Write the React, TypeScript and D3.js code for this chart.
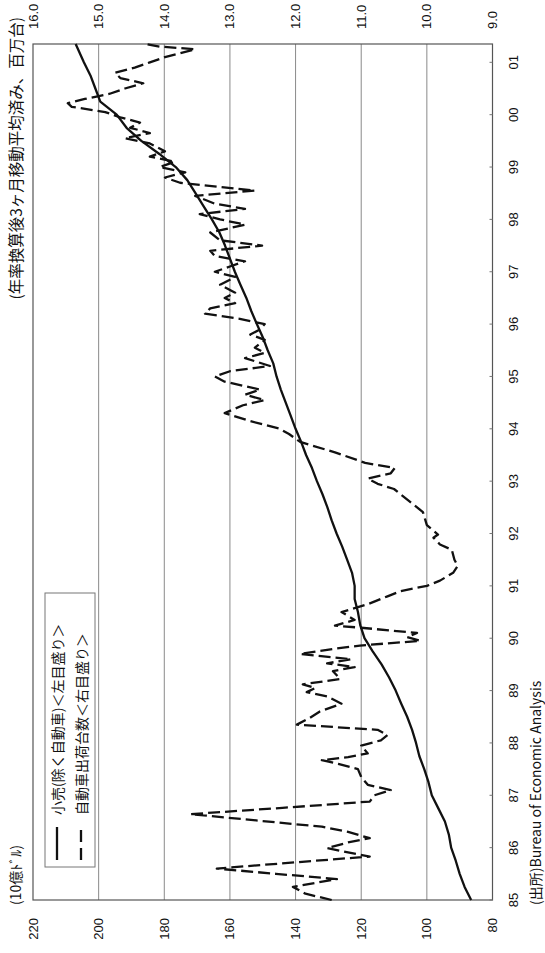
import React from 'react';
import * as d3 from 'd3';

const yearLabels = ['85', '86', '87', '88', '89', '90', '91', '92', '93', '94', '95', '96', '97', '98', '99', '00', '01'];
const yearValues = [1985, 1986, 1987, 1988, 1989, 1990, 1991, 1992, 1993, 1994, 1995, 1996, 1997, 1998, 1999, 2000, 2001];
const leftTicks = [80, 100, 120, 140, 160, 180, 200, 220];
const rightTicks = [9, 10, 11, 12, 13, 14, 15, 16];

// 小売(除く自動車) — left axis, 10億ドル
const retailT = [
  1985.0, 1985.25, 1985.5, 1985.75, 1986.0, 1986.25, 1986.5, 1986.75, 1987.0, 1987.25, 1987.5, 1987.75,
  1988.0, 1988.25, 1988.5, 1988.75, 1989.0, 1989.25, 1989.5, 1989.75, 1990.0, 1990.25, 1990.5, 1990.75,
  1991.0, 1991.25, 1991.5, 1991.75, 1992.0, 1992.25, 1992.5, 1992.75, 1993.0, 1993.25, 1993.5, 1993.75,
  1994.0, 1994.25, 1994.5, 1994.75, 1995.0, 1995.25, 1995.5, 1995.75, 1996.0, 1996.25, 1996.5, 1996.75,
  1997.0, 1997.25, 1997.5, 1997.75, 1998.0, 1998.25, 1998.5, 1998.75, 1999.0, 1999.25, 1999.5, 1999.75,
  2000.0, 2000.25, 2000.5, 2000.75, 2001.0, 2001.35,
];
const retailV = [
  86.5, 88.5, 90.0, 91.2, 92.6, 93.3, 94.5, 96.5, 98.5, 99.5, 100.8, 102.3,
  103.3, 104.5, 106.0, 107.8, 109.5, 111.5, 113.8, 116.5, 119.0, 120.3, 121.0, 122.0,
  122.0, 122.8, 124.3, 125.8, 127.5, 129.0, 130.3, 131.8, 133.5, 135.0, 136.8, 138.3,
  140.0, 141.5, 143.0, 144.5, 145.8, 146.8, 148.5, 150.0, 151.8, 153.5, 155.0, 156.8,
  158.5, 160.0, 161.5, 163.2, 165.5, 168.0, 170.5, 173.0, 176.5, 181.5, 187.0, 191.5,
  194.5, 199.5, 201.0, 202.5, 204.5, 207.0,
];

// 自動車出荷台数 — right axis, 百万台
const autoT = [
  1985.0, 1985.12, 1985.25, 1985.4, 1985.5, 1985.6, 1985.72, 1985.83, 1985.99, 1986.1, 1986.18, 1986.3,
  1986.4, 1986.52, 1986.64, 1986.76, 1986.88, 1987.0, 1987.1, 1987.2, 1987.35, 1987.5, 1987.6, 1987.67,
  1987.73, 1987.8, 1987.95, 1988.05, 1988.15, 1988.25, 1988.35, 1988.48, 1988.6, 1988.75, 1988.89, 1988.97,
  1989.05, 1989.12, 1989.22, 1989.37, 1989.45, 1989.52, 1989.6, 1989.7, 1989.8, 1989.86, 1989.95, 1990.02,
  1990.1, 1990.2, 1990.24, 1990.35, 1990.5, 1990.65, 1990.8, 1990.9, 1991.0, 1991.1, 1991.25, 1991.38,
  1991.5, 1991.69, 1991.79, 1991.92, 1991.98, 1992.16, 1992.41, 1992.6, 1992.85, 1992.95, 1993.05, 1993.15,
  1993.25, 1993.35, 1993.55, 1993.75, 1993.9, 1994.0, 1994.15, 1994.3, 1994.45, 1994.55, 1994.65, 1994.75,
  1994.9, 1995.0, 1995.1, 1995.2, 1995.35, 1995.45, 1995.55, 1995.7, 1995.8, 1995.9, 1996.0, 1996.1,
  1996.2, 1996.3, 1996.4, 1996.5, 1996.6, 1996.75, 1996.9, 1997.0, 1997.1, 1997.2, 1997.3, 1997.4,
  1997.5, 1997.6, 1997.75, 1997.9, 1998.0, 1998.1, 1998.2, 1998.3, 1998.45, 1998.55, 1998.7, 1998.8,
  1998.9, 1999.0, 1999.1, 1999.2, 1999.3, 1999.45, 1999.55, 1999.65, 1999.75, 1999.85, 1999.95, 2000.05,
  2000.15, 2000.22, 2000.3, 2000.4, 2000.5, 2000.6, 2000.7, 2000.8, 2000.9, 2001.0, 2001.1, 2001.2,
  2001.25, 2001.3, 2001.35,
];
const autoV = [
  11.45, 11.85, 12.04, 11.37, 12.3, 13.2, 12.0, 10.87, 11.52, 11.2, 10.87, 11.2,
  11.6, 12.6, 13.6, 12.2, 10.87, 10.8, 10.55, 10.9, 11.0, 11.05, 11.35, 11.6,
  11.2, 10.9, 11.0, 10.7, 10.6, 10.75, 11.98, 11.78, 11.63, 11.3, 11.52, 11.83,
  11.7, 11.89, 11.32, 11.43, 11.1, 11.52, 11.15, 11.93, 11.4, 11.02, 10.1, 10.3,
  10.15, 11.0, 11.4, 11.1, 11.3, 10.9, 10.6, 10.4, 10.0, 9.8, 9.6, 9.53,
  9.58, 9.62, 9.8, 9.9, 9.83, 10.0, 10.06, 10.25, 10.5, 10.75, 10.9, 10.55,
  10.49, 10.94, 11.4, 11.93, 12.1, 12.24, 12.7, 13.08, 12.8, 12.47, 12.77, 12.54,
  13.08, 13.23, 13.0, 12.39, 12.77, 12.47, 12.62, 12.47, 12.69, 12.54, 12.47, 12.85,
  13.38, 13.3, 12.92, 13.08, 12.92, 13.15, 12.92, 13.23, 13.0, 12.77, 13.23, 13.3,
  12.51, 13.15, 13.3, 12.77, 13.15, 13.46, 12.77, 13.23, 13.53, 12.62, 13.76, 13.99,
  13.68, 14.07, 13.84, 14.22, 13.99, 14.22, 14.6, 14.22, 14.52, 14.37, 14.67, 14.9,
  15.41, 15.47, 15.21, 14.83, 14.6, 14.32, 14.67, 14.75, 14.45, 14.22, 13.99, 13.68,
  13.53, 14.07, 14.29,
];

const NUM_FONT = '"Liberation Sans", Arial, Helvetica, sans-serif';
const JP_FONT = '"Noto Sans CJK JP", "Liberation Sans", sans-serif';

export default function App() {
  const W = 545;
  const H = 953;
  // inner (unrotated) coordinate system: width = H, height = W
  const plotL = 53;
  const plotR = 909;
  const plotT = 33;
  const plotB = 492.5;

  const x = d3.scaleLinear().domain([1985, 2001.35]).range([plotL, plotR]);
  const yL = d3.scaleLinear().domain([80, 220]).range([plotB, plotT]);
  const yR = d3.scaleLinear().domain([9, 16]).range([plotB, plotT]);

  const retailLine = d3
    .line<number>()
    .x((_, i) => x(retailT[i]))
    .y((d) => yL(d))
    .curve(d3.curveLinear);
  const autoLine = d3
    .line<number>()
    .x((_, i) => x(autoT[i]))
    .y((d) => yR(d))
    .curve(d3.curveLinear);

  const legendL = 86;
  const legendR = 360;
  const legendT = 45;
  const legendB = 95;

  return (
    <svg
      width={W}
      height={H}
      viewBox={`0 0 ${W} ${H}`}
      style={{ position: 'absolute', left: 0, top: 0, background: '#fff' }}
    >
      <rect x={0} y={0} width={W} height={H} fill="#fff" />
      <g transform={`translate(0,${H}) rotate(-90)`}>
        {/* gridlines */}
        {leftTicks.slice(1, -1).map((t) => (
          <line key={'g' + t} x1={plotL} x2={plotR} y1={yL(t)} y2={yL(t)} stroke="#8a8a8a" strokeWidth={1} />
        ))}
        {/* plot frame */}
        <rect x={plotL} y={plotT} width={plotR - plotL} height={plotB - plotT} fill="none" stroke="#555" strokeWidth={1.2} />
        {/* x ticks */}
        {yearValues.map((v) => (
          <line key={'xt' + v} x1={x(v)} x2={x(v)} y1={plotB} y2={plotB - 3} stroke="#777" strokeWidth={1} />
        ))}
        {/* series */}
        <path d={retailLine(retailV) || ''} fill="none" stroke="#111" strokeWidth={2.3} strokeLinejoin="round" />
        <path d={autoLine(autoV) || ''} fill="none" stroke="#111" strokeWidth={2.3} strokeDasharray="12,5" strokeLinejoin="round" />

        {/* legend */}
        <rect x={legendL} y={legendT} width={legendR - legendL} height={legendB - legendT} fill="#fff" stroke="#777" strokeWidth={1} />
        <line x1={93} x2={126} y1={57} y2={57} stroke="#111" strokeWidth={2.3} />
        <line x1={93} x2={126} y1={81} y2={81} stroke="#111" strokeWidth={2.3} strokeDasharray="12,6" />
        <text x={138} y={57} fontFamily={JP_FONT} fontSize={14} dominantBaseline="central" fill="#111">
          小売(除く自動車)＜左目盛り＞
        </text>
        <text x={138} y={81} fontFamily={JP_FONT} fontSize={14} dominantBaseline="central" fill="#111">
          自動車出荷台数＜右目盛り＞
        </text>

        {/* x axis labels */}
        {yearValues.map((v, i) => (
          <text key={'xl' + v} x={x(v)} y={513} fontFamily={NUM_FONT} fontSize={13} textAnchor="middle" dominantBaseline="central" fill="#111">
            {yearLabels[i]}
          </text>
        ))}
        {/* left axis labels */}
        {leftTicks.map((t) => (
          <text key={'ll' + t} x={35} y={yL(t)} fontFamily={NUM_FONT} fontSize={13} textAnchor="end" dominantBaseline="central" fill="#111">
            {t}
          </text>
        ))}
        {/* right axis labels */}
        {rightTicks.map((t) => (
          <text key={'rl' + t} x={924} y={yR(t)} fontFamily={NUM_FONT} fontSize={13} textAnchor="start" dominantBaseline="central" fill="#111">
            {t.toFixed(1)}
          </text>
        ))}
        {/* unit labels */}
        <text x={48} y={15} fontFamily={JP_FONT} fontSize={14} dominantBaseline="central" fill="#111">
          (10億ﾄﾞﾙ)
        </text>
        <text x={936} y={15} fontFamily={JP_FONT} fontSize={15.5} textAnchor="end" dominantBaseline="central" fill="#111">
          (年率換算後3ヶ月移動平均済み、百万台)
        </text>
        <text x={48} y={535} fontFamily={JP_FONT} fontSize={14} dominantBaseline="central" fill="#111">
          (出所)Bureau of Economic Analysis
        </text>
      </g>
    </svg>
  );
}
